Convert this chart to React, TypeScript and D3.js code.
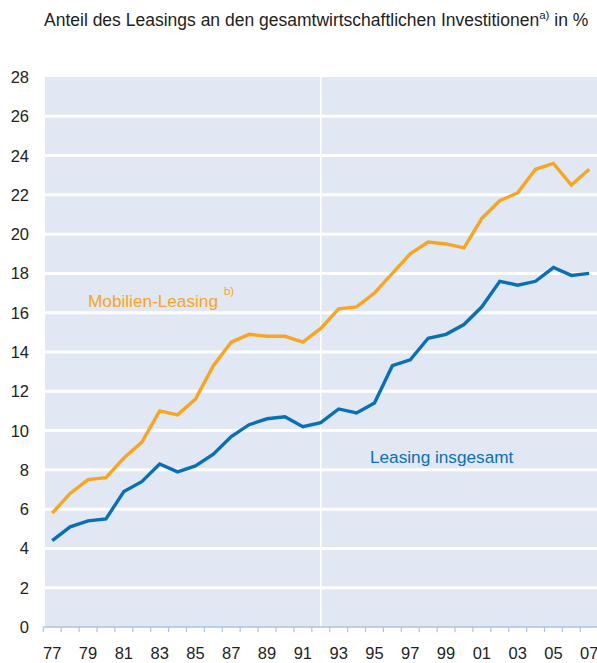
import React from "react";
import * as d3 from "d3";

const years = ["77","78","79","80","81","82","83","84","85","86","87","88","89","90","91","92","93","94","95","96","97","98","99","00","01","02","03","04","05","06","07"];
const mobilien = [5.8,6.8,7.5,7.6,8.6,9.4,11.0,10.8,11.6,13.3,14.5,14.9,14.8,14.8,14.5,15.2,16.2,16.3,17.0,18.0,19.0,19.6,19.5,19.3,20.8,21.7,22.1,23.3,23.6,22.5,23.3];
const insgesamt = [4.4,5.1,5.4,5.5,6.9,7.4,8.3,7.9,8.2,8.8,9.7,10.3,10.6,10.7,10.2,10.4,11.1,10.9,11.4,13.3,13.6,14.7,14.9,15.4,16.3,17.6,17.4,17.6,18.3,17.9,18.0];
const yTicks = [0,2,4,6,8,10,12,14,16,18,20,22,24,26,28];
const xLabels = ["77","79","81","83","85","87","89","91","93","95","97","99","01","03","05","07"];
const breakYear = "92";

const W = 597, H = 663;
const FONT = "'Liberation Sans', Arial, sans-serif";

export default function App() {
  const x = d3.scaleBand<string>().domain(years).range([43.3, 598.2]).padding(0);
  const y = d3.scaleLinear().domain([0, 28]).range([627, 77]);
  const cx = (yr: string) => (x(yr) as number) + x.bandwidth() / 2;
  const line = d3.line<number>().x((_, i) => cx(years[i])).y((d) => y(d));
  const panelL = 45, panelR = 597;
  const gridLines = yTicks.filter((t) => t > 0 && t < 28);
  const tickXs = years.map((yr) => x(yr) as number).concat([(x(years[years.length - 1]) as number) + x.bandwidth()]);

  return (
    <svg width={W} height={H} style={{ position: "absolute", left: 0, top: 0 }} fontFamily={FONT}>
      <rect x={0} y={0} width={W} height={H} fill="#fff" />
      <text x={44} y={26} fontSize={17.5} fill="#222">
        Anteil des Leasings an den gesamtwirtschaftlichen Investitionen
        <tspan fontSize={11.5} dy={-7}>a)</tspan>
        <tspan dy={7}> in %</tspan>
      </text>
      <rect x={panelL} y={y(28)} width={panelR - panelL} height={y(0) - y(28)} fill="#e1e8f3" />
      {gridLines.map((t) => (
        <line key={t} x1={panelL} x2={panelR} y1={y(t)} y2={y(t)} stroke="#fff" strokeWidth={3} />
      ))}
      <line x1={cx(breakYear)} x2={cx(breakYear)} y1={y(28)} y2={y(0)} stroke="#fff" strokeWidth={1.5} />
      <line x1={43.3} x2={panelR} y1={y(0)} y2={y(0)} stroke="#a9c3e3" strokeWidth={1.5} />
      {tickXs.map((tx, i) => (
        <line key={i} x1={tx} x2={tx} y1={y(0)} y2={y(0) + 5} stroke="#a9c3e3" strokeWidth={1.2} />
      ))}
      {yTicks.map((t) => (
        <text key={t} x={29} y={y(t) + 6} fontSize={16.5} textAnchor="end" fill="#222">{t}</text>
      ))}
      {xLabels.map((l) => (
        <text key={l} x={cx(l)} y={659} fontSize={16.5} textAnchor="middle" fill="#222">{l}</text>
      ))}
      <path d={line(mobilien) || ""} fill="none" stroke="#f6a623" strokeWidth={3.4} strokeLinejoin="miter" />
      <path d={line(insgesamt) || ""} fill="none" stroke="#0a70b6" strokeWidth={3.4} strokeLinejoin="miter" />
      <text x={88} y={307} fontSize={17.2} fill="#f6a623">
        Mobilien-Leasing
        <tspan fontSize={11.5} dx={6} dy={-12}>b)</tspan>
      </text>
      <text x={370} y={463} fontSize={17.2} fill="#0a70b6">Leasing insgesamt</text>
    </svg>
  );
}
